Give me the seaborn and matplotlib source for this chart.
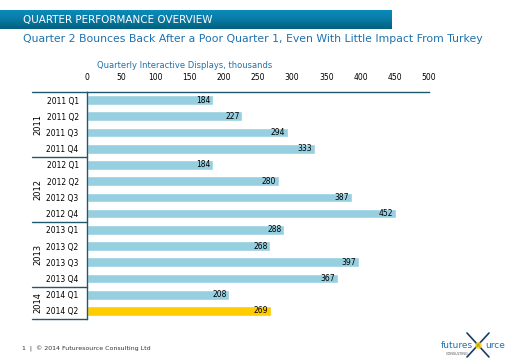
import numpy as np
import pandas as pd
import seaborn as sns
import matplotlib.pyplot as plt
from matplotlib.lines import Line2D
from matplotlib.colors import LinearSegmentedColormap

# Chart data
quarters = ['2011 Q1', '2011 Q2', '2011 Q3', '2011 Q4',
            '2012 Q1', '2012 Q2', '2012 Q3', '2012 Q4',
            '2013 Q1', '2013 Q2', '2013 Q3', '2013 Q4',
            '2014 Q1', '2014 Q2']
displays = [184, 227, 294, 333, 184, 280, 387, 452, 288, 268, 397, 367, 208, 269]
years = ['2011', '2012', '2013', '2014']
year_sizes = [4, 4, 4, 2]
x_ticks = [0, 50, 100, 150, 200, 250, 300, 350, 400, 450, 500]

BAR = '#96cfe0'
HIGHLIGHT = '#ffcc00'
LINE = '#1d5a6e'
BLUE = '#1f72ad'

sns.set_theme(style='white')
plt.rcParams['font.family'] = ['DejaVu Sans']

df = pd.DataFrame({'quarter': quarters, 'value': displays})
colors = [BAR] * (len(quarters) - 1) + [HIGHLIGHT]

fig = plt.figure(figsize=(5.2, 3.6), dpi=100)
ax = fig.add_axes([87 / 520, 1 - 319 / 360, (429 - 87) / 520, (319 - 92) / 360])

sns.barplot(data=df, y='quarter', x='value', hue='quarter', palette=colors,
            legend=False, width=0.6, orient='h', ax=ax, saturation=1)

ax.set_xlim(0, 500)
ax.set_ylim(len(quarters) - 0.5, -0.5)
ax.set_xticks(x_ticks)
ax.xaxis.tick_top()
ax.tick_params(axis='x', length=0, labelsize=5.5, pad=7, colors='black')
ax.tick_params(axis='y', length=0, labelsize=5.5, pad=6, colors='black')
ax.set_xlabel('')
ax.set_ylabel('')
for s in ['bottom', 'right']:
    ax.spines[s].set_visible(False)
for s in ['top', 'left']:
    ax.spines[s].set_color(LINE)
    ax.spines[s].set_linewidth(1.0)

# value labels
for i, v in enumerate(displays):
    ax.text(v - 4, i, str(v), ha='right', va='center', fontsize=5.5, color='black')

# year grouping on the left
start = 0
trans = ax.get_yaxis_transform()
ax.add_line(Line2D([-0.16, 0], [-0.5, -0.5], transform=trans, color=LINE, lw=1.0, clip_on=False))
for yr, n in zip(years, year_sizes):
    end = start + n
    ax.add_line(Line2D([-0.16, 0], [end - 0.5, end - 0.5], transform=trans,
                       color=LINE, lw=1.0, clip_on=False))
    ax.text(-0.145, (start + end - 1) / 2, yr, transform=trans, rotation=90,
            ha='center', va='center', fontsize=6, color='black')
    start = end

# axis title
fig.text(97 / 520, 1 - 65 / 360, 'Quarterly Interactive Displays, thousands',
         fontsize=6, color=BLUE, va='center', ha='left')

# header band
hax = fig.add_axes([0, 1 - 29 / 360, 392 / 520, 19 / 360])
grad = np.linspace(0, 1, 50).reshape(-1, 1)
cmap = LinearSegmentedColormap.from_list('hdr', ['#0b8bbb', '#0a7aa4', '#00607e'])
hax.imshow(grad, aspect='auto', cmap=cmap, extent=[0, 1, 0, 1], origin='upper')
hax.set_axis_off()
fig.text(23 / 520, 1 - 19.5 / 360, 'QUARTER PERFORMANCE OVERVIEW', color='white',
         fontsize=7.5, va='center', ha='left')
fig.text(23 / 520, 1 - 39 / 360,
         'Quarter 2 Bounces Back After a Poor Quarter 1, Even With Little Impact From Turkey',
         color=BLUE, fontsize=7.8, va='center', ha='left')

# footer
fig.text(22 / 520, 1 - 349 / 360, '1  |  \u00a9 2014 Futuresource Consulting Ltd',
         fontsize=4.5, color='#333333', va='center', ha='left')
fig.text(473 / 520, 1 - 345 / 360, 'futures', fontsize=6.5, color=BLUE, va='center', ha='right')
fig.text(485 / 520, 1 - 345 / 360, 'urce', fontsize=6.5, color=BLUE, va='center', ha='left')
fig.text(446 / 520, 1 - 354 / 360, 'CONSULTING', fontsize=2.5, color='#555555', va='center', ha='left')
fig.add_artist(Line2D([467 / 520, 489 / 520], [1 - 333 / 360, 1 - 357 / 360],
                      transform=fig.transFigure, color='#1a3d66', lw=1.2))
fig.add_artist(Line2D([467 / 520, 489 / 520], [1 - 357 / 360, 1 - 333 / 360],
                      transform=fig.transFigure, color='#1a3d66', lw=1.2))
fig.add_artist(Line2D([478 / 520], [1 - 345 / 360], transform=fig.transFigure,
                      marker='o', color='#ffd400', markersize=4, alpha=0.7))

fig.savefig('out.png', dpi=100)
